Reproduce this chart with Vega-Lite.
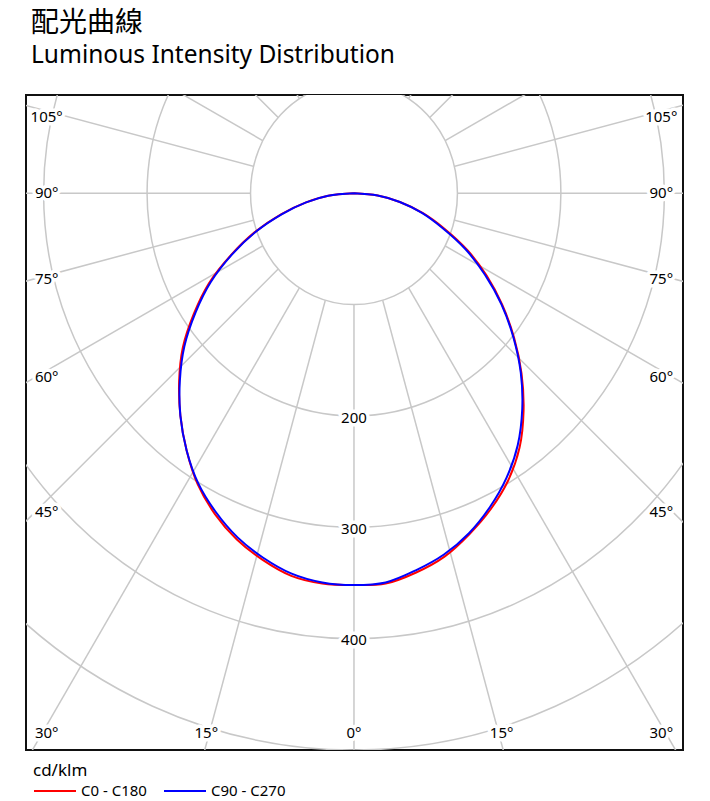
{
  "$schema": "https://vega.github.io/schema/vega-lite/v6.json",
  "width": 657,
  "height": 655,
  "autosize": {"type": "none"},
  "padding": {"left": 26, "top": 95, "right": 27, "bottom": 51},
  "background": "white",
  "title": {
    "text": "配光曲線",
    "subtitle": "Luminous Intensity Distribution",
    "anchor": "start",
    "frame": "group",
    "font": "Noto Sans CJK TC",
    "fontSize": 28,
    "fontWeight": "normal",
    "color": "#000000",
    "subtitleFont": "Noto Sans",
    "subtitleFontSize": 24.5,
    "subtitleColor": "#000000",
    "subtitlePadding": 6,
    "offset": 28,
    "dx": 5
  },
  "datasets": {
    "curves": [
      {"series": "C0 - C180", "gamma": -90, "cd": 0},
      {"series": "C0 - C180", "gamma": -85, "cd": 25},
      {"series": "C0 - C180", "gamma": -80, "cd": 47},
      {"series": "C0 - C180", "gamma": -75, "cd": 73},
      {"series": "C0 - C180", "gamma": -70, "cd": 102},
      {"series": "C0 - C180", "gamma": -65, "cd": 131},
      {"series": "C0 - C180", "gamma": -60, "cd": 162},
      {"series": "C0 - C180", "gamma": -55, "cd": 189},
      {"series": "C0 - C180", "gamma": -50, "cd": 216},
      {"series": "C0 - C180", "gamma": -45, "cd": 239},
      {"series": "C0 - C180", "gamma": -40, "cd": 261},
      {"series": "C0 - C180", "gamma": -35, "cd": 282},
      {"series": "C0 - C180", "gamma": -30, "cd": 302},
      {"series": "C0 - C180", "gamma": -25, "cd": 318},
      {"series": "C0 - C180", "gamma": -20, "cd": 331},
      {"series": "C0 - C180", "gamma": -15, "cd": 341},
      {"series": "C0 - C180", "gamma": -10, "cd": 349},
      {"series": "C0 - C180", "gamma": -5, "cd": 352},
      {"series": "C0 - C180", "gamma": 0, "cd": 352},
      {"series": "C0 - C180", "gamma": 5, "cd": 352},
      {"series": "C0 - C180", "gamma": 10, "cd": 346},
      {"series": "C0 - C180", "gamma": 15, "cd": 338},
      {"series": "C0 - C180", "gamma": 20, "cd": 326},
      {"series": "C0 - C180", "gamma": 25, "cd": 313},
      {"series": "C0 - C180", "gamma": 30, "cd": 298},
      {"series": "C0 - C180", "gamma": 35, "cd": 279},
      {"series": "C0 - C180", "gamma": 40, "cd": 255},
      {"series": "C0 - C180", "gamma": 45, "cd": 229},
      {"series": "C0 - C180", "gamma": 50, "cd": 202},
      {"series": "C0 - C180", "gamma": 55, "cd": 175},
      {"series": "C0 - C180", "gamma": 60, "cd": 148},
      {"series": "C0 - C180", "gamma": 65, "cd": 121},
      {"series": "C0 - C180", "gamma": 70, "cd": 93},
      {"series": "C0 - C180", "gamma": 75, "cd": 69},
      {"series": "C0 - C180", "gamma": 80, "cd": 45},
      {"series": "C0 - C180", "gamma": 85, "cd": 23},
      {"series": "C0 - C180", "gamma": 90, "cd": 0},
      {"series": "C90 - C270", "gamma": -90, "cd": 0},
      {"series": "C90 - C270", "gamma": -85, "cd": 25},
      {"series": "C90 - C270", "gamma": -80, "cd": 47},
      {"series": "C90 - C270", "gamma": -75, "cd": 72},
      {"series": "C90 - C270", "gamma": -70, "cd": 101},
      {"series": "C90 - C270", "gamma": -65, "cd": 130},
      {"series": "C90 - C270", "gamma": -60, "cd": 160},
      {"series": "C90 - C270", "gamma": -55, "cd": 187},
      {"series": "C90 - C270", "gamma": -50, "cd": 214},
      {"series": "C90 - C270", "gamma": -45, "cd": 238},
      {"series": "C90 - C270", "gamma": -40, "cd": 261},
      {"series": "C90 - C270", "gamma": -35, "cd": 282},
      {"series": "C90 - C270", "gamma": -30, "cd": 301},
      {"series": "C90 - C270", "gamma": -25, "cd": 316},
      {"series": "C90 - C270", "gamma": -20, "cd": 329},
      {"series": "C90 - C270", "gamma": -15, "cd": 339},
      {"series": "C90 - C270", "gamma": -10, "cd": 347},
      {"series": "C90 - C270", "gamma": -5, "cd": 351},
      {"series": "C90 - C270", "gamma": 0, "cd": 352},
      {"series": "C90 - C270", "gamma": 5, "cd": 351},
      {"series": "C90 - C270", "gamma": 10, "cd": 344},
      {"series": "C90 - C270", "gamma": 15, "cd": 336},
      {"series": "C90 - C270", "gamma": 20, "cd": 325},
      {"series": "C90 - C270", "gamma": 25, "cd": 311},
      {"series": "C90 - C270", "gamma": 30, "cd": 295},
      {"series": "C90 - C270", "gamma": 35, "cd": 276},
      {"series": "C90 - C270", "gamma": 40, "cd": 253},
      {"series": "C90 - C270", "gamma": 45, "cd": 228},
      {"series": "C90 - C270", "gamma": 50, "cd": 201},
      {"series": "C90 - C270", "gamma": 55, "cd": 174},
      {"series": "C90 - C270", "gamma": 60, "cd": 146},
      {"series": "C90 - C270", "gamma": 65, "cd": 119},
      {"series": "C90 - C270", "gamma": 70, "cd": 91},
      {"series": "C90 - C270", "gamma": 75, "cd": 68},
      {"series": "C90 - C270", "gamma": 80, "cd": 45},
      {"series": "C90 - C270", "gamma": 85, "cd": 23},
      {"series": "C90 - C270", "gamma": 90, "cd": 0}
    ],
    "gridAngles": [
      {"angle": 0}, {"angle": 15}, {"angle": 30}, {"angle": 45}, {"angle": 60}, {"angle": 75},
      {"angle": 90}, {"angle": 105}, {"angle": 120}, {"angle": 135}, {"angle": 150}, {"angle": 165},
      {"angle": 180}, {"angle": 195}, {"angle": 210}, {"angle": 225}, {"angle": 240}, {"angle": 255},
      {"angle": 270}, {"angle": 285}, {"angle": 300}, {"angle": 315}, {"angle": 330}, {"angle": 345}
    ],
    "rings": [{"cd": 100}, {"cd": 200}, {"cd": 300}, {"cd": 400}, {"cd": 500}],
    "valueLabels": [{"cd": 200}, {"cd": 300}, {"cd": 400}],
    "angleLabels": [
      {"angle": -105, "label": "105°"},
      {"angle": -90, "label": "90°"},
      {"angle": -75, "label": "75°"},
      {"angle": -60, "label": "60°"},
      {"angle": -45, "label": "45°"},
      {"angle": -30, "label": "30°"},
      {"angle": -15, "label": "15°"},
      {"angle": 0, "label": "0°"},
      {"angle": 15, "label": "15°"},
      {"angle": 30, "label": "30°"},
      {"angle": 45, "label": "45°"},
      {"angle": 60, "label": "60°"},
      {"angle": 75, "label": "75°"},
      {"angle": 90, "label": "90°"},
      {"angle": 105, "label": "105°"}
    ]
  },
  "layer": [
    {
      "data": {"name": "gridAngles"},
      "transform": [
        {"calculate": "0", "as": "o"},
        {"calculate": "800*sin(datum.angle*PI/180)", "as": "ex"},
        {"calculate": "800*cos(datum.angle*PI/180)*0.9292", "as": "ey"}
      ],
      "mark": {"type": "rule", "clip": true, "color": "#c8c8c8", "strokeWidth": 1.5},
      "encoding": {
        "x": {"field": "o", "type": "quantitative", "scale": {"domain": [-317, 318], "nice": false, "zero": false}, "axis": null},
        "y": {"field": "o", "type": "quantitative", "scale": {"domain": [-88.3, 500.2], "nice": false, "zero": false, "reverse": true}, "axis": null},
        "x2": {"field": "ex"},
        "y2": {"field": "ey"}
      }
    },
    {
      "data": {"name": "rings"},
      "transform": [{"filter": "datum.cd > 100"}, {"calculate": "0", "as": "o"}],
      "mark": {
        "type": "point",
        "shape": "M0.9292,0C0.9292,0.5523,0.5132,1,0,1C-0.5132,1,-0.9292,0.5523,-0.9292,0C-0.9292,-0.5523,-0.5132,-1,0,-1C0.5132,-1,0.9292,-0.5523,0.9292,0Z",
        "filled": false,
        "stroke": "#c8c8c8",
        "strokeWidth": 1.5,
        "opacity": 1,
        "clip": true
      },
      "encoding": {
        "x": {"field": "o", "type": "quantitative", "scale": {"domain": [-317, 318], "nice": false, "zero": false}, "axis": null},
        "y": {"field": "o", "type": "quantitative", "scale": {"domain": [-88.3, 500.2], "nice": false, "zero": false, "reverse": true}, "axis": null},
        "size": {"field": "cd", "type": "quantitative", "scale": {"type": "pow", "exponent": 2, "domain": [0, 500], "range": [0, 1239659]}, "legend": null}
      }
    },
    {
      "data": {"name": "rings"},
      "transform": [{"filter": "datum.cd == 100"}, {"calculate": "0", "as": "o"}],
      "mark": {
        "type": "point",
        "shape": "M0.9292,0C0.9292,0.5523,0.5132,1,0,1C-0.5132,1,-0.9292,0.5523,-0.9292,0C-0.9292,-0.5523,-0.5132,-1,0,-1C0.5132,-1,0.9292,-0.5523,0.9292,0Z",
        "filled": true,
        "fill": "#ffffff",
        "stroke": "#c8c8c8",
        "strokeWidth": 1.5,
        "opacity": 1,
        "clip": true
      },
      "encoding": {
        "x": {"field": "o", "type": "quantitative", "scale": {"domain": [-317, 318], "nice": false, "zero": false}, "axis": null},
        "y": {"field": "o", "type": "quantitative", "scale": {"domain": [-88.3, 500.2], "nice": false, "zero": false, "reverse": true}, "axis": null},
        "size": {"field": "cd", "type": "quantitative", "scale": {"type": "pow", "exponent": 2, "domain": [0, 500], "range": [0, 1239659]}, "legend": null}
      }
    },
    {
      "data": {"name": "valueLabels"},
      "transform": [{"calculate": "0", "as": "o"}],
      "mark": {"type": "text", "font": "Noto Sans", "fontSize": 15, "color": "#ffffff", "stroke": "#ffffff", "strokeWidth": 7, "strokeJoin": "round", "dy": 2},
      "encoding": {
        "x": {"field": "o", "type": "quantitative", "scale": {"domain": [-317, 318], "nice": false, "zero": false}, "axis": null},
        "y": {"field": "cd", "type": "quantitative", "scale": {"domain": [-88.3, 500.2], "nice": false, "zero": false, "reverse": true}, "axis": null},
        "text": {"field": "cd", "type": "quantitative"}
      }
    },
    {
      "data": {"name": "valueLabels"},
      "transform": [{"calculate": "0", "as": "o"}],
      "mark": {"type": "text", "font": "Noto Sans", "fontSize": 15, "color": "#000000", "dy": 2},
      "encoding": {
        "x": {"field": "o", "type": "quantitative", "scale": {"domain": [-317, 318], "nice": false, "zero": false}, "axis": null},
        "y": {"field": "cd", "type": "quantitative", "scale": {"domain": [-88.3, 500.2], "nice": false, "zero": false, "reverse": true}, "axis": null},
        "text": {"field": "cd", "type": "quantitative"}
      }
    },
    {
      "data": {"name": "angleLabels"},
      "transform": [
        {"calculate": "sin(datum.angle*PI/180)", "as": "s"},
        {"calculate": "cos(datum.angle*PI/180)", "as": "cs"},
        {"calculate": "abs(datum.s) > 1e-6 ? 297/abs(datum.s) : 1e6", "as": "ts"},
        {"calculate": "datum.cs > 1e-6 ? 484.7/(datum.cs*0.91) : 1e6", "as": "tb"},
        {"calculate": "datum.ts <= datum.tb ? datum.ts*datum.s : datum.tb*datum.s", "as": "lx"},
        {"calculate": "datum.ts <= datum.tb ? min(484.7, datum.ts*datum.cs*(datum.cs < 0 ? 0.86 : 0.965)) : 484.7", "as": "ly"}
      ],
      "mark": {"type": "text", "font": "Noto Sans", "fontSize": 15, "color": "#ffffff", "stroke": "#ffffff", "strokeWidth": 7, "strokeJoin": "round", "align": "center", "baseline": "middle"},
      "encoding": {
        "x": {"field": "lx", "type": "quantitative", "scale": {"domain": [-317, 318], "nice": false, "zero": false}, "axis": null},
        "y": {"field": "ly", "type": "quantitative", "scale": {"domain": [-88.3, 500.2], "nice": false, "zero": false, "reverse": true}, "axis": null},
        "text": {"field": "label", "type": "nominal"}
      }
    },
    {
      "data": {"name": "angleLabels"},
      "transform": [
        {"calculate": "sin(datum.angle*PI/180)", "as": "s"},
        {"calculate": "cos(datum.angle*PI/180)", "as": "cs"},
        {"calculate": "abs(datum.s) > 1e-6 ? 297/abs(datum.s) : 1e6", "as": "ts"},
        {"calculate": "datum.cs > 1e-6 ? 484.7/(datum.cs*0.91) : 1e6", "as": "tb"},
        {"calculate": "datum.ts <= datum.tb ? datum.ts*datum.s : datum.tb*datum.s", "as": "lx"},
        {"calculate": "datum.ts <= datum.tb ? min(484.7, datum.ts*datum.cs*(datum.cs < 0 ? 0.86 : 0.965)) : 484.7", "as": "ly"}
      ],
      "mark": {"type": "text", "font": "Noto Sans", "fontSize": 15, "color": "#000000", "align": "center", "baseline": "middle"},
      "encoding": {
        "x": {"field": "lx", "type": "quantitative", "scale": {"domain": [-317, 318], "nice": false, "zero": false}, "axis": null},
        "y": {"field": "ly", "type": "quantitative", "scale": {"domain": [-88.3, 500.2], "nice": false, "zero": false, "reverse": true}, "axis": null},
        "text": {"field": "label", "type": "nominal"}
      }
    },
    {
      "data": {"name": "curves"},
      "transform": [
        {"filter": "datum.series === 'C0 - C180'"},
        {"calculate": "datum.cd*sin(datum.gamma*PI/180)", "as": "px"},
        {"calculate": "datum.cd*cos(datum.gamma*PI/180)", "as": "py"}
      ],
      "mark": {"type": "line", "clip": true, "strokeWidth": 2, "interpolate": "catmull-rom"},
      "encoding": {
        "x": {"field": "px", "type": "quantitative", "scale": {"domain": [-317, 318], "nice": false, "zero": false}, "axis": null},
        "y": {"field": "py", "type": "quantitative", "scale": {"domain": [-88.3, 500.2], "nice": false, "zero": false, "reverse": true}, "axis": null},
        "order": {"field": "gamma", "type": "quantitative"},
        "color": {
          "field": "series", "type": "nominal",
          "scale": {"domain": ["C0 - C180", "C90 - C270"], "range": ["#ff0000", "#0000ff"]},
          "legend": {"title": "cd/klm", "orient": "none", "legendX": 7, "legendY": 668, "direction": "horizontal"}
        }
      }
    },
    {
      "data": {"name": "curves"},
      "transform": [
        {"filter": "datum.series === 'C90 - C270'"},
        {"calculate": "datum.cd*sin(datum.gamma*PI/180)", "as": "px"},
        {"calculate": "datum.cd*cos(datum.gamma*PI/180)", "as": "py"}
      ],
      "mark": {"type": "line", "clip": true, "strokeWidth": 2, "interpolate": "catmull-rom"},
      "encoding": {
        "x": {"field": "px", "type": "quantitative", "scale": {"domain": [-317, 318], "nice": false, "zero": false}, "axis": null},
        "y": {"field": "py", "type": "quantitative", "scale": {"domain": [-88.3, 500.2], "nice": false, "zero": false, "reverse": true}, "axis": null},
        "order": {"field": "gamma", "type": "quantitative"},
        "color": {
          "field": "series", "type": "nominal",
          "scale": {"domain": ["C0 - C180", "C90 - C270"], "range": ["#ff0000", "#0000ff"]},
          "legend": {"title": "cd/klm", "orient": "none", "legendX": 7, "legendY": 668, "direction": "horizontal"}
        }
      }
    }
  ],
  "config": {
    "view": {"stroke": "#111111", "strokeWidth": 2},
    "legend": {
      "titleFont": "Noto Sans",
      "titleFontSize": 17,
      "titleFontWeight": "normal",
      "titleColor": "#000000",
      "labelFont": "Noto Sans",
      "labelFontSize": 15,
      "labelColor": "#000000",
      "symbolType": "stroke",
      "symbolSize": 1764,
      "symbolStrokeWidth": 2,
      "labelOffset": 4,
      "columnPadding": 13,
      "titlePadding": -11,
      "padding": 0
    }
  }
}
